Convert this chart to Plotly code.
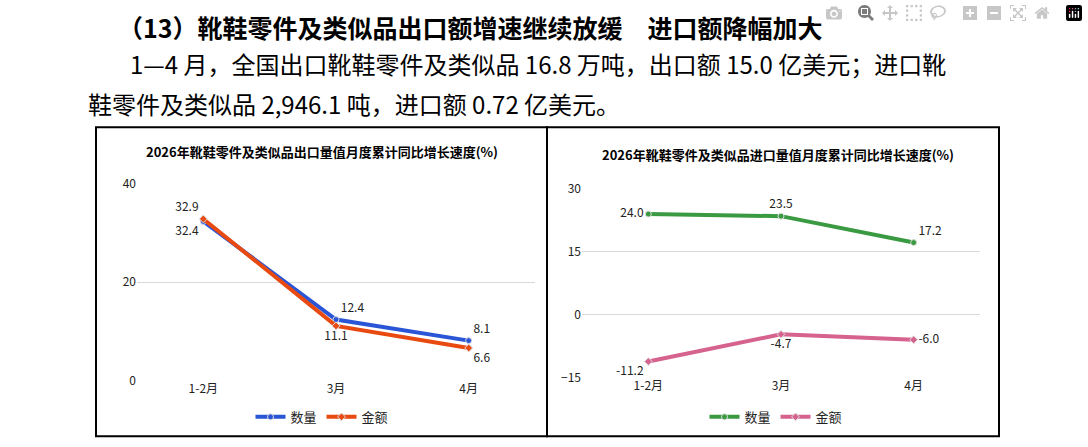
import plotly.graph_objects as go

months = ["1-2月", "3月", "4月"]
exp_qty = [32.4, 12.4, 8.1]
exp_val = [32.9, 11.1, 6.6]
imp_qty = [24.0, 23.5, 17.2]
imp_val = [-11.2, -4.7, -6.0]

W, H = 1088, 447
def px(x): return x / W
def py(y): return 1 - y / H

F = "Noto Sans CJK SC"
fig = go.Figure()

def add(x, y, name, color, sym, xa, ya, pos, leg):
    fig.add_trace(go.Scatter(
        x=x, y=y, name=name, xaxis=xa, yaxis=ya, legend=leg,
        mode="lines+markers+text", text=[f"{v:.1f}" for v in y], textposition=pos,
        textfont=dict(family=F, size=12, color="#222"),
        line=dict(color=color, width=4),
        marker=dict(symbol=sym, size=6, color=color, line=dict(color="#ddd", width=1))))

add(months, exp_qty, "数量", "#2a55d6", "circle", "x", "y",
    ["bottom left", "top right", "top right"], "legend")
add(months, exp_val, "金额", "#e84a12", "diamond", "x", "y",
    ["top left", "bottom center", "bottom right"], "legend")
add(months, imp_qty, "数量", "#3a9a42", "circle", "x2", "y2",
    ["middle left", "top center", "top right"], "legend2")
add(months, imp_val, "金额", "#d6628e", "diamond", "x2", "y2",
    ["bottom left", "bottom center", "middle right"], "legend2")

ax = dict(showgrid=False, zeroline=False, showline=False, ticks="",
          tickfont=dict(family=F, size=12, color="#222"), range=[-0.5, 2.5])
ay = dict(showgrid=True, gridcolor="#d9d9d9", zeroline=False, showline=False,
          tickfont=dict(family=F, size=12, color="#222"))
leg = dict(orientation="h", xanchor="center", yanchor="middle", y=py(423),
           font=dict(family=F, size=13, color="#222"), bgcolor="rgba(0,0,0,0)")

fig.update_layout(
    width=W, height=H, margin=dict(l=0, r=0, t=0, b=0),
    paper_bgcolor="white", plot_bgcolor="white",
    xaxis=dict(ax, domain=[px(137), px(535)], anchor="y"),
    yaxis=dict(ay, domain=[py(385), py(181)], range=[0, 40], tickvals=[0, 20, 40], anchor="x"),
    xaxis2=dict(ax, domain=[px(582), px(980)], anchor="y2"),
    yaxis2=dict(ay, domain=[py(382), py(186)], range=[-15, 30], tickvals=[-15, 0, 15, 30], anchor="x2"),
    legend=dict(leg, x=px(322)),
    legend2=dict(leg, x=px(776)),
)

# chart frames
for x0, x1 in [(96, 547), (547, 999)]:
    fig.add_shape(type="rect", xref="paper", yref="paper", x0=px(x0), x1=px(x1),
                  y0=py(443), y1=py(122), line=dict(color="black", width=2))

anns = [
    (116, 18, "<b>（13）靴鞋零件及类似品出口额增速继续放缓　进口额降幅加大</b>", 25, "left"),
    (128, 56, "1—4 月，全国出口靴鞋零件及类似品 16.8 万吨，出口额 15.0 亿美元；进口靴", 24, "left"),
    (86, 97, "鞋零件及类似品 2,946.1 吨，进口额 0.72 亿美元。", 24, "left"),
    (322, 147, "<b>2026年靴鞋零件及类似品出口量值月度累计同比增长速度(%)</b>", 13, "center"),
    (778, 150, "<b>2026年靴鞋零件及类似品进口量值月度累计同比增长速度(%)</b>", 13, "center"),
]
for x, y, t, s, al in anns:
    fig.add_annotation(xref="paper", yref="paper", x=px(x), y=py(y), text=t, showarrow=False,
                       xanchor=al, yanchor="middle", font=dict(family=F, size=s, color="black"))

fig.write_html("out.html", post_script="document.body.style.margin='0';")
